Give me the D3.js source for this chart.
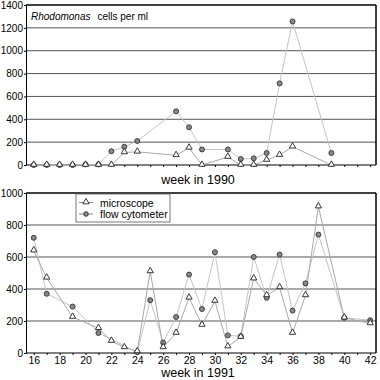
<!DOCTYPE html>
<html><head><meta charset="utf-8">
<script src="https://cdn.jsdelivr.net/npm/d3@7"></script>
<style>body{margin:0;background:#fff}svg{display:block;font-family:"Liberation Sans",Arial,sans-serif}</style>
</head><body><svg id="c" width="380" height="380"></svg>
<script>
// 1990 (top panel)
const weeks1990Micro = [16,17,18,19,20,21,22,23,24,27,28,29,31,32,33,34,35,36,39];
const micro1990      = [0,0,0,0,0,0,0,110,115,85,150,0,70,0,0,44,87,160,0];
const weeks1990Flow  = [16,17,18,19,20,21,22,23,24,27,28,29,31,32,33,34,35,36,39];
const flow1990       = [0,0,0,0,5,5,120,160,210,470,330,136,136,52,58,105,714,1256,105];
// 1991 (bottom panel)
const weeks1991Micro = [16,17,19,21,22,23,24,25,26,27,28,29,30,31,32,33,34,35,36,37,38,40,42];
const micro1991      = [640,470,225,155,75,35,10,510,35,125,345,175,325,40,100,465,360,410,125,360,915,220,185];
const weeks1991Flow  = [16,17,19,21,24,25,26,27,28,29,30,31,32,33,34,35,36,37,38,40,42];
const flow1991       = [720,370,290,125,5,330,65,225,490,275,630,110,105,600,345,615,265,435,740,220,205];
const yTicksTop = [0,200,400,600,800,1000,1200,1400];
const yTicksBottom = [0,200,400,600,800,1000];
const xTickLabels = [16,18,20,22,24,26,28,30,32,34,36,38,40,42];
const seriesNames = ["microscope","flow cytometer"];

const svg = d3.select("#c");
const x = d3.scaleLinear().domain([15.4, 42.45]).range([26, 376]);
const yTop = d3.scaleLinear().domain([0,1400]).range([165, 5]);
const yBot = d3.scaleLinear().domain([0,1000]).range([353, 193]);
const minorWeeks = d3.range(16, 43);

function panel(y, ticks, micro, wMicro, flow, wFlow, showXLabels, title) {
  const g = svg.append("g");
  const [y0, y1] = y.range();
  g.selectAll(".grid").data(ticks.filter(t => t > 0 && t < y.domain()[1])).join("line")
    .attr("x1", 26).attr("x2", 376).attr("y1", d => y(d)).attr("y2", d => y(d))
    .attr("stroke", "#555").attr("stroke-width", 1);
  g.append("line").attr("x1", 26).attr("x2", 376).attr("y1", y1).attr("y2", y1).attr("stroke", "#000").attr("stroke-width", 1.5);
  g.append("line").attr("x1", 376).attr("x2", 376).attr("y1", y1).attr("y2", y0).attr("stroke", "#000").attr("stroke-width", 1.5);
  const ya = d3.axisLeft(y).tickValues(ticks).tickSize(2).tickPadding(1).tickFormat(d3.format("d"));
  const yg = g.append("g").attr("transform", "translate(26,0)").call(ya);
  yg.select(".domain").attr("stroke", "#000");
  yg.selectAll("text").attr("font-size", 10).attr("fill", "#000").attr("font-family", "Liberation Sans, Arial, sans-serif");
  const xa = d3.axisBottom(x).tickValues(minorWeeks).tickSize(2).tickPadding(2)
    .tickFormat(d => showXLabels && xTickLabels.includes(d) ? d : "");
  const xg = g.append("g").attr("transform", `translate(0,${y0})`).call(xa);
  xg.select(".domain").attr("stroke", "#000").attr("d", "M26,0H376");
  xg.selectAll(".tick line").attr("stroke", "#000");
  xg.selectAll("text").attr("font-size", 10.5).attr("fill", "#000").attr("font-family", "Liberation Sans, Arial, sans-serif");

  const mData = wMicro.map((w, i) => [w, micro[i]]);
  const fData = wFlow.map((w, i) => [w, flow[i]]);
  const line = d3.line().x(d => x(d[0])).y(d => y(d[1]));
  g.append("path").attr("d", line(fData)).attr("fill", "none").attr("stroke", "#c4c4c4").attr("stroke-width", 1);
  g.append("path").attr("d", line(mData)).attr("fill", "none").attr("stroke", "#a8a8a8").attr("stroke-width", 1);
  g.selectAll(".f").data(fData).join("circle")
    .attr("cx", d => x(d[0])).attr("cy", d => y(d[1])).attr("r", 2.5)
    .attr("fill", "#888").attr("stroke", "#333").attr("stroke-width", 0.9);
  const tri = d3.symbol().type(d3.symbolTriangle).size(17);
  g.selectAll(".m").data(mData).join("path")
    .attr("transform", d => `translate(${x(d[0])},${y(d[1]) - 0.5})`).attr("d", tri)
    .attr("fill", "#fff").attr("stroke", "#222").attr("stroke-width", 0.9);
  g.append("text").attr("x", 198).attr("y", y0 + (showXLabels ? 24 : 19)).attr("text-anchor", "middle")
    .attr("font-size", 12.5).text(title);
  return g;
}

panel(yTop, yTicksTop, micro1990, weeks1990Micro, flow1990, weeks1990Flow, false, "week in 1990");
panel(yBot, yTicksBottom, micro1991, weeks1991Micro, flow1991, weeks1991Flow, true, "week in 1991");

const t = svg.append("text").attr("x", 31).attr("y", 20).attr("font-size", 10);
t.append("tspan").attr("font-style", "italic").text("Rhodomonas");
t.append("tspan").attr("dx", 7).text("cells per ml");

const lg = svg.append("g").attr("transform", "translate(76,194)");
lg.append("rect").attr("width", 94).attr("height", 28).attr("fill", "#fff").attr("stroke", "#555").attr("stroke-width", 0.8);
lg.append("line").attr("x1", 3).attr("x2", 17).attr("y1", 8.5).attr("y2", 8.5).attr("stroke", "#888");
lg.append("path").attr("transform", "translate(10,8)").attr("d", d3.symbol().type(d3.symbolTriangle).size(17))
  .attr("fill", "#fff").attr("stroke", "#222").attr("stroke-width", 0.9);
lg.append("line").attr("x1", 3).attr("x2", 17).attr("y1", 20).attr("y2", 20).attr("stroke", "#888");
lg.append("circle").attr("cx", 10).attr("cy", 20).attr("r", 2.3).attr("fill", "#888").attr("stroke", "#333").attr("stroke-width", 0.9);
lg.selectAll(".lt").data(seriesNames).join("text")
  .attr("x", 24).attr("y", (d, i) => 12.5 + i * 11.5).attr("font-size", 10.5).text(d => d);
</script></body></html>
